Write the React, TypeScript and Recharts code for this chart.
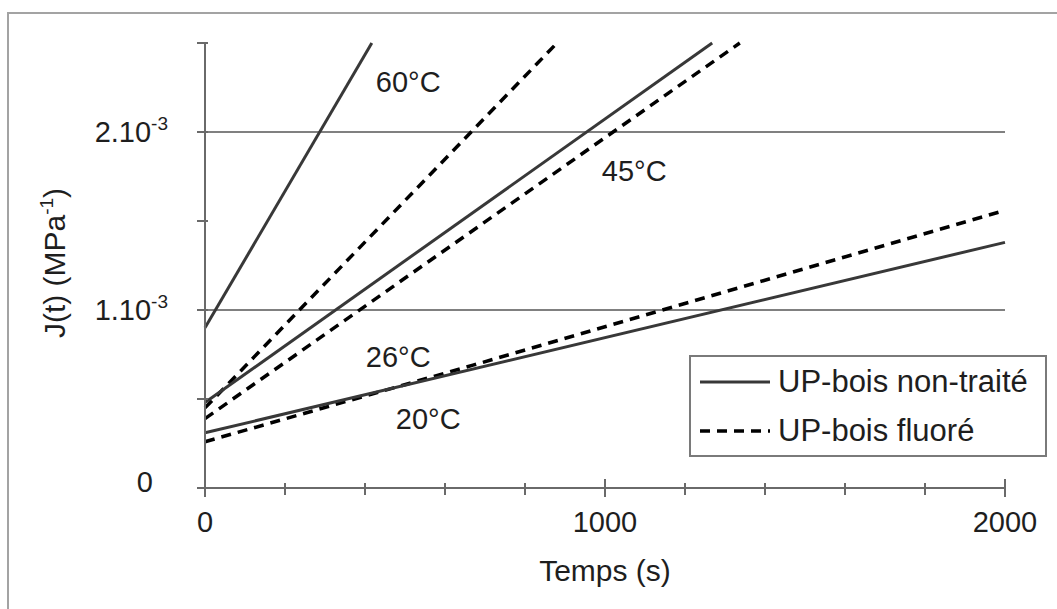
import { LineChart, Line, XAxis, YAxis, ReferenceLine, ReferenceDot, Legend, Label } from "recharts";

// time axis (s)
const timeTicks = [0, 200, 400, 600, 800, 1000, 1200, 1400, 1600, 1800, 2000];
const timeLabels = [0, 1000, 2000];

// compliance axis J(t) in MPa^-1
const complianceTicks = [0, 0.0005, 0.001, 0.0015, 0.002, 0.0025];
const complianceLabels = [0, 0.001, 0.002];
const gridValues = [0.001, 0.002];

// UP-bois non-traité (solid)
const untreated60 = [
  { t: 0, j: 0.0009 },
  { t: 417, j: 0.0025 },
];
const untreated45 = [
  { t: 0, j: 0.00048 },
  { t: 1268, j: 0.0025 },
];
const untreated20 = [
  { t: 0, j: 0.00031 },
  { t: 2000, j: 0.00138 },
];

// UP-bois fluoré (dashed)
const fluorinated60 = [
  { t: 0, j: 0.00045 },
  { t: 880, j: 0.0025 },
];
const fluorinated45 = [
  { t: 0, j: 0.00039 },
  { t: 1337, j: 0.0025 },
];
const fluorinated26 = [
  { t: 0, j: 0.00026 },
  { t: 670, j: 0.00069 },
  { t: 2000, j: 0.00156 },
];

// curve annotations
const tempLabels = ["60°C", "45°C", "26°C", "20°C"];
const tempLabelT = [508, 1073, 483, 558];
const tempLabelJ = [0.00228, 0.00178, 0.00074, 0.00039];

const legendLabels = ["UP-bois non-traité", "UP-bois fluoré"];

const FONT = '"Liberation Sans", Arial, sans-serif';
const INK = "#1e1e1e";
const AXIS = "#6a6a6a";
const SOLID = "#383838";
const DASHED = "#000000";
const DASH = "10 7";

const XTick = ({ x, y, payload }: any) => {
  const v = payload.value;
  const labelled = timeLabels.includes(v);
  return (
    <g>
      <line x1={x} x2={x} y1={y - (labelled ? 9 : 5)} y2={y + (labelled ? 9 : 7)} stroke={AXIS} strokeWidth={2} />
      {labelled && (
        <text x={x} y={y + 44} textAnchor="middle" fontSize={29} fill={INK} fontFamily={FONT}>
          {v}
        </text>
      )}
    </g>
  );
};

const YTick = ({ x, y, payload }: any) => {
  const v = payload.value;
  const labelled = complianceLabels.some((l) => Math.abs(l - v) < 1e-9);
  const mant = Math.round(v * 1000);
  return (
    <g>
      <line x1={x - 8} x2={x + 3} y1={y} y2={y} stroke={AXIS} strokeWidth={2} />
      {labelled &&
        (mant === 0 ? (
          <text x={x - 52} y={y + 4} textAnchor="end" fontSize={29} fill={INK} fontFamily={FONT}>
            0
          </text>
        ) : (
          <text x={x - 37} y={y + 10} textAnchor="end" fontSize={29} fill={INK} fontFamily={FONT}>
            {`${mant}.10`}
            <tspan dy={-12} fontSize={19}>
              -3
            </tspan>
          </text>
        ))}
    </g>
  );
};

const LegendBox = () => (
  <div
    style={{
      width: 354,
      height: 98,
      border: "2px solid #7a7a7a",
      background: "#fff",
      fontFamily: FONT,
      fontSize: 31,
      color: INK,
    }}
  >
    {legendLabels.map((label, i) => (
      <div key={label} style={{ display: "flex", alignItems: "center", height: 49, whiteSpace: "nowrap" }}>
        <svg width={87} height={10} style={{ flex: "none" }}>
          <line
            x1={9}
            x2={79}
            y1={5}
            y2={5}
            stroke={i === 0 ? SOLID : DASHED}
            strokeWidth={i === 0 ? 3 : 3.5}
            strokeDasharray={i === 0 ? undefined : DASH}
          />
        </svg>
        <span>{label}</span>
      </div>
    ))}
  </div>
);

export default function App() {
  return (
    <div style={{ position: "absolute", left: 0, top: 0, width: 1057, height: 609, background: "#fff", overflow: "hidden" }}>
      <div
        style={{
          position: "absolute",
          left: 7,
          top: 12,
          width: 1080,
          height: 640,
          border: "2px solid #a3a3a3",
        }}
      />
      <LineChart
        width={1057}
        height={609}
        margin={{ top: 43, right: 52, left: 0, bottom: 0 }}
        style={{ fontFamily: FONT }}
      >
        <XAxis
          type="number"
          dataKey="t"
          domain={[0, 2000]}
          ticks={timeTicks}
          interval={0}
          height={121}
          tickSize={0}
          tickMargin={0}
          tickLine={false}
          tick={<XTick />}
          axisLine={{ stroke: AXIS, strokeWidth: 2 }}
        >
          <Label
            content={() => (
              <text x={605} y={581} textAnchor="middle" fontSize={30} fill={INK} fontFamily={FONT}>
                Temps (s)
              </text>
            )}
          />
        </XAxis>
        <YAxis
          type="number"
          domain={[0, 0.0025]}
          ticks={complianceTicks}
          interval={0}
          width={205}
          tickSize={0}
          tickMargin={0}
          tickLine={false}
          tick={<YTick />}
          axisLine={{ stroke: AXIS, strokeWidth: 2 }}
        >
          <Label
            content={() => (
              <text
                transform="translate(65,263) rotate(-90)"
                textAnchor="middle"
                fontSize={30}
                fill={INK}
                fontFamily={FONT}
              >
                J(t) (MPa
                <tspan dy={-12} fontSize={19}>
                  -1
                </tspan>
                <tspan dy={12}>)</tspan>
              </text>
            )}
          />
        </YAxis>

        {gridValues.map((g) => (
          <ReferenceLine key={g} y={g} stroke="#808080" strokeWidth={2} />
        ))}

        <Line data={fluorinated60} dataKey="j" stroke={DASHED} strokeWidth={3.5} strokeDasharray={DASH} dot={false} activeDot={false} isAnimationActive={false} />
        <Line data={fluorinated45} dataKey="j" stroke={DASHED} strokeWidth={3.5} strokeDasharray={DASH} dot={false} activeDot={false} isAnimationActive={false} />
        <Line data={fluorinated26} dataKey="j" stroke={DASHED} strokeWidth={3.5} strokeDasharray={DASH} dot={false} activeDot={false} isAnimationActive={false} />
        <Line data={untreated60} dataKey="j" stroke={SOLID} strokeWidth={3} dot={false} activeDot={false} isAnimationActive={false} />
        <Line data={untreated45} dataKey="j" stroke={SOLID} strokeWidth={3} dot={false} activeDot={false} isAnimationActive={false} />
        <Line data={untreated20} dataKey="j" stroke={SOLID} strokeWidth={3} dot={false} activeDot={false} isAnimationActive={false} />

        {tempLabels.map((label, i) => (
          <ReferenceDot
            key={label}
            x={tempLabelT[i]}
            y={tempLabelJ[i]}
            r={0}
            fill="none"
            stroke="none"
            label={{ value: label, position: "center", fontSize: 29, fill: INK, fontFamily: FONT }}
          />
        ))}

        <Legend
          layout="horizontal"
          verticalAlign="middle"
          align="center"
          wrapperStyle={{ left: 689, top: 355, width: 358, height: 102 }}
          content={<LegendBox />}
        />
      </LineChart>
    </div>
  );
}
